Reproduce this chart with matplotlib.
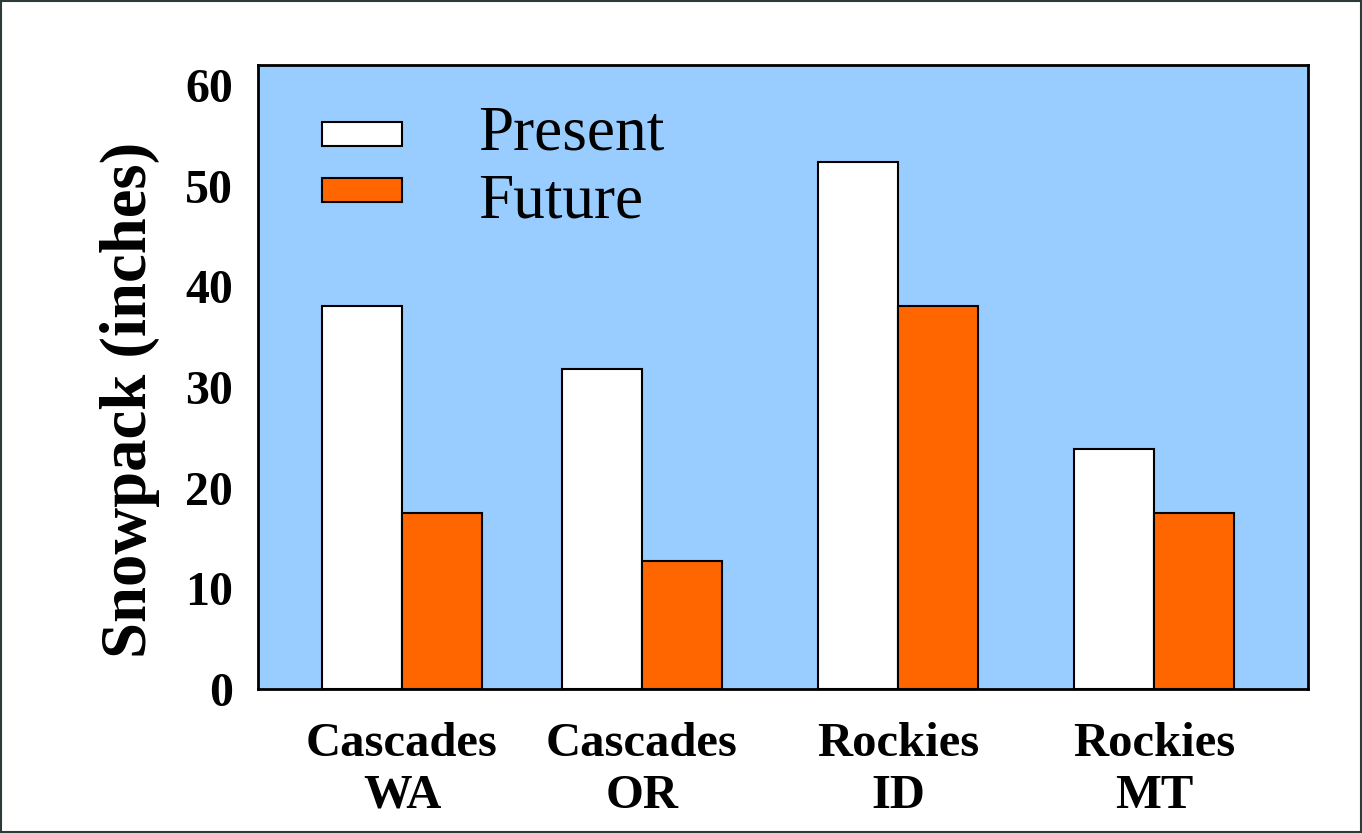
import matplotlib
matplotlib.use("Agg")
import matplotlib.pyplot as plt
from matplotlib.patches import Rectangle

# Snowpack data (inches)
regions = ["Cascades\nWA", "Cascades\nOR", "Rockies\nID", "Rockies\nMT"]
present = [38.1, 31.8, 52.4, 23.8]
future = [17.5, 12.7, 38.1, 17.5]
series_names = ["Present", "Future"]
yticks = [0, 10, 20, 30, 40, 50, 60]

SERIF = ["Liberation Serif", "DejaVu Serif"]
SKY = "#99CCFF"
ORANGE = "#FF6600"

fig = plt.figure(figsize=(13.62, 8.33), dpi=100)
fig.patch.set_facecolor("white")
ax = fig.add_axes([258 / 1362, 144 / 833, 1050 / 1362, 624 / 833])
ax.set_facecolor(SKY)

# group centres along the x axis (axis spans 0..1050)
centers = [144, 384, 640, 896]
width = 80
ax.bar([c - width / 2 for c in centers], present, width=width, color="white",
       edgecolor="black", linewidth=1.5, zorder=3)
ax.bar([c + width / 2 for c in centers], future, width=width, color=ORANGE,
       edgecolor="black", linewidth=1.5, zorder=3)

ax.set_xlim(0, 1050)
ax.set_ylim(0, 62)
ax.set_yticks(yticks)
ax.set_yticklabels([str(t) for t in yticks], fontfamily=SERIF,
                   fontweight="bold", fontsize=34.5)
ax.set_xticks(centers)
ax.set_xticklabels(regions, fontfamily=SERIF, fontweight="bold",
                   fontsize=35, linespacing=1.22)
ax.tick_params(axis="both", length=0)
ax.tick_params(axis="y", pad=18)
ax.tick_params(axis="x", pad=24)
for s in ax.spines.values():
    s.set_linewidth(2)
    s.set_color("black")

ax.set_ylabel("Snowpack (inches)", fontfamily=SERIF, fontweight="bold",
              fontsize=46.5)
ax.yaxis.set_label_coords(-0.093, 0.463)

# legend swatches and labels
for (y0, y1, col, name, base) in [
        (0.870, 0.909, "white", series_names[0], 0.864),
        (0.780, 0.819, ORANGE, series_names[1], 0.755)]:
    ax.add_patch(Rectangle((0.061, y0), 0.076, y1 - y0, transform=ax.transAxes,
                           facecolor=col, edgecolor="black", linewidth=1.5,
                           zorder=4))
    ax.text(0.2095, base, name, transform=ax.transAxes, fontfamily=SERIF,
            fontsize=45.5, va="baseline", ha="left", zorder=4)

# thin outer frame
fig.patches.append(Rectangle((0.001, 0.001), 0.998, 0.998,
                             transform=fig.transFigure, fill=False,
                             edgecolor="#2b3a3a", linewidth=1.5))

fig.savefig("out.png", dpi=100)
